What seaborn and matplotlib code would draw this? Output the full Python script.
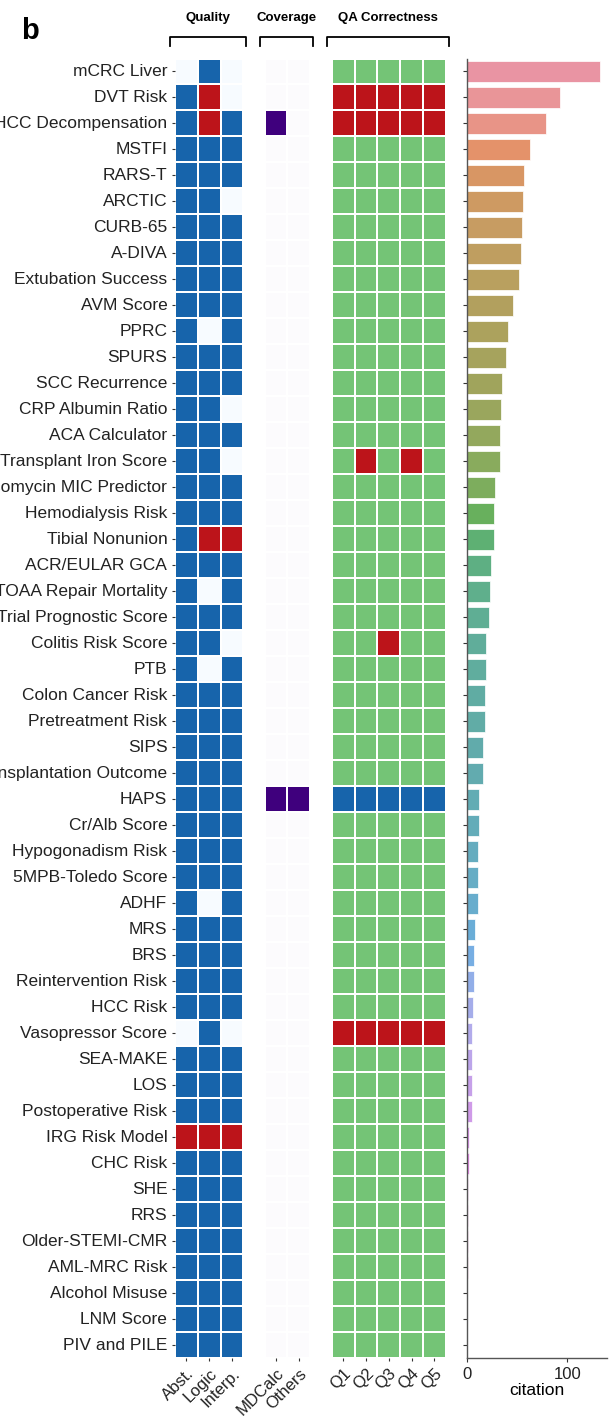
import numpy as np
import pandas as pd
import seaborn as sns
import matplotlib.pyplot as plt
from matplotlib.colors import ListedColormap
from matplotlib.lines import Line2D

# --- datos de la figura ---
calculators = ['mCRC Liver', 'DVT Risk', 'HCC Decompensation', 'MSTFI', 'RARS-T',
               'ARCTIC', 'CURB-65', 'A-DIVA', 'Extubation Success', 'AVM Score',
               'PPRC', 'SPURS', 'SCC Recurrence', 'CRP Albumin Ratio', 'ACA Calculator',
               'Transplant Iron Score', 'Vancomycin MIC Predictor', 'Hemodialysis Risk',
               'Tibial Nonunion', 'ACR/EULAR GCA', 'TOAA Repair Mortality',
               'Trial Prognostic Score', 'Colitis Risk Score', 'PTB', 'Colon Cancer Risk',
               'Pretreatment Risk', 'SIPS', 'Transplantation Outcome', 'HAPS',
               'Cr/Alb Score', 'Hypogonadism Risk', '5MPB-Toledo Score', 'ADHF', 'MRS',
               'BRS', 'Reintervention Risk', 'HCC Risk', 'Vasopressor Score', 'SEA-MAKE',
               'LOS', 'Postoperative Risk', 'IRG Risk Model', 'CHC Risk', 'SHE', 'RRS',
               'Older-STEMI-CMR', 'AML-MRC Risk', 'Alcohol Misuse', 'LNM Score',
               'PIV and PILE']

quality_cols = ['Abst.', 'Logic', 'Interp.']
coverage_cols = ['MDCalc', 'Others']
qa_cols = ['Q1', 'Q2', 'Q3', 'Q4', 'Q5']

# calidad: 0 = no disponible, 1 = correcto, 2 = error
quality = [[0, 1, 0], [1, 2, 0], [1, 2, 1], [1, 1, 1], [1, 1, 1],
           [1, 1, 0], [1, 1, 1], [1, 1, 1], [1, 1, 1], [1, 1, 1],
           [1, 0, 1], [1, 1, 1], [1, 1, 1], [1, 1, 0], [1, 1, 1],
           [1, 1, 0], [1, 1, 1], [1, 1, 1], [1, 2, 2], [1, 1, 1],
           [1, 0, 1], [1, 1, 1], [1, 1, 0], [1, 0, 1], [1, 1, 1],
           [1, 1, 1], [1, 1, 1], [1, 1, 1], [1, 1, 1], [1, 1, 1],
           [1, 1, 1], [1, 1, 1], [1, 0, 1], [1, 1, 1], [1, 1, 1],
           [1, 1, 1], [1, 1, 1], [0, 1, 0], [1, 1, 1], [1, 1, 1],
           [1, 1, 1], [2, 2, 2], [1, 1, 1], [1, 1, 1], [1, 1, 1],
           [1, 1, 1], [1, 1, 1], [1, 1, 1], [1, 1, 1], [1, 1, 1]]

# cobertura: 1 = presente en la fuente
coverage_rows = {'HCC Decompensation': [1, 0], 'HAPS': [1, 1]}

# QA: 0 = correcto, 1 = incorrecto, 2 = otro
qa_rows = {'DVT Risk': [1, 1, 1, 1, 1],
           'HCC Decompensation': [1, 1, 1, 1, 1],
           'Transplant Iron Score': [0, 1, 0, 1, 0],
           'Colitis Risk Score': [0, 0, 1, 0, 0],
           'HAPS': [2, 2, 2, 2, 2],
           'Vasopressor Score': [1, 1, 1, 1, 1]}

citations = [133, 93, 79, 63, 57, 56, 55, 54, 52, 46,
             41, 39, 35, 34, 33, 33, 28.5, 27, 27, 24,
             22.7, 22, 19.3, 19.3, 18.7, 18.7, 16.7, 16, 12.7, 12,
             11, 11, 11, 8.3, 7.7, 7.3, 6.7, 5.7, 5.7, 5,
             5, 2.3, 2.3, 1.7, 1.7, 1.7, 1.7, 0, 0, 0]

# --- tablas ---
df_quality = pd.DataFrame(quality, index=calculators, columns=quality_cols)
df_coverage = pd.DataFrame(0, index=calculators, columns=coverage_cols)
for name, vals in coverage_rows.items():
    df_coverage.loc[name] = vals
df_qa = pd.DataFrame(0, index=calculators, columns=qa_cols)
for name, vals in qa_rows.items():
    df_qa.loc[name] = vals

plt.rcParams['font.family'] = ['Liberation Sans', 'DejaVu Sans']
plt.rcParams['text.color'] = '#222222'
plt.rcParams['xtick.color'] = '#333333'
plt.rcParams['ytick.color'] = '#333333'
plt.rcParams['xtick.labelcolor'] = '#222222'
plt.rcParams['ytick.labelcolor'] = '#222222'

W, H = 613, 1416
fig = plt.figure(figsize=(W / 100, H / 100), dpi=100)

top, bottom = 58.5, 1358.3


def px_axes(x0, x1):
    return fig.add_axes([x0 / W, 1 - bottom / H, (x1 - x0) / W, (bottom - top) / H])


ax_q = px_axes(175, 243.3)
ax_c = px_axes(264.5, 310)
ax_a = px_axes(331.7, 445.7)
ax_b = px_axes(466.7, 607)

blue, red, light, green = '#1764ab', '#bc141a', '#f7fbff', '#74c476'
lw = 1.3

sns.heatmap(df_quality, ax=ax_q, cmap=ListedColormap([light, blue, red]), vmin=0, vmax=2,
            cbar=False, linewidths=lw, linecolor='white', yticklabels=True)
sns.heatmap(df_coverage, ax=ax_c, cmap='Purples', vmin=0, vmax=1,
            cbar=False, linewidths=lw, linecolor='white', yticklabels=False)
sns.heatmap(df_qa, ax=ax_a, cmap=ListedColormap([green, red, blue]), vmin=0, vmax=2,
            cbar=False, linewidths=lw, linecolor='white', yticklabels=False)

for ax, cols in [(ax_q, quality_cols), (ax_c, coverage_cols), (ax_a, qa_cols)]:
    ax.set_xticklabels(cols, rotation=45, ha='right', rotation_mode='anchor', fontsize=12)
    ax.tick_params(length=2.5, width=0.8, pad=3)
    ax.set_xlabel('')
    ax.set_ylabel('')
ax_q.set_yticklabels(calculators, rotation=0, fontsize=12.5)

# --- barras de citas ---
sns.barplot(x=citations, y=calculators, hue=calculators, palette='husl', legend=False,
            ax=ax_b, width=0.8, alpha=0.85, edgecolor='white', linewidth=0.6)
ax_b.set_yticklabels([])
ax_b.set_ylabel('')
ax_b.set_xticks([0, 100])
ax_b.tick_params(axis='x', labelsize=12, length=3, width=0.8, pad=3)
ax_b.tick_params(axis='y', length=3, width=0.8)
ax_b.set_xlabel('citation', fontsize=12.5, labelpad=1)
sns.despine(ax=ax_b)
for s in ['left', 'bottom']:
    ax_b.spines[s].set_color('#555555')
    ax_b.spines[s].set_linewidth(1)

# --- encabezados con corchetes ---
for ax, title in [(ax_q, 'Quality'), (ax_c, 'Coverage'), (ax_a, 'QA Correctness')]:
    pos = ax.get_position()
    xl, xr = pos.x0 - 5 / W, pos.x1 + 3 / W
    yb, yt = 1 - 46 / H, 1 - 37 / H
    fig.add_artist(Line2D([xl, xl, xr, xr], [yb, yt, yt, yb], color='black', lw=1.3,
                          transform=fig.transFigure))
    fig.text((xl + xr) / 2, 1 - 21.5 / H, title, ha='center', va='baseline',
             fontsize=9.5, fontweight='bold', color='black')

fig.text(21 / W, 1 - 39 / H, 'b', fontsize=21, fontweight='bold', color='black',
         va='baseline')

plt.savefig('out.png', dpi=100)
